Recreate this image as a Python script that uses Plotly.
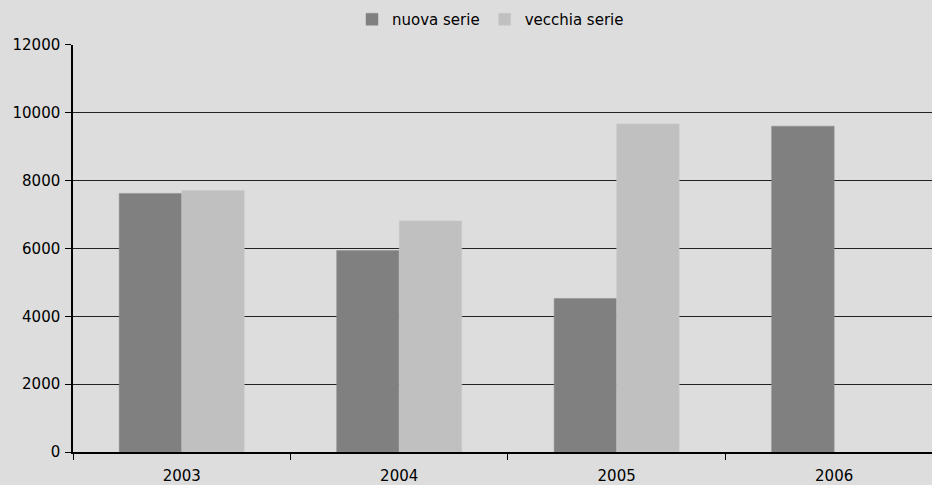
import plotly.graph_objects as go

years = ["2003", "2004", "2005", "2006"]
nuova_serie = [7620, 5935, 4525, 9600]
vecchia_serie = [7705, 6810, 9665, None]
y_ticks = [0, 2000, 4000, 6000, 8000, 10000, 12000]
y_tick_labels = ["0", "2000", "4000", "6000", "8000", "10000", "12000"]

font = dict(family="DejaVu Sans, Verdana, sans-serif", size=15, color="#000000")

fig = go.Figure()
fig.add_trace(go.Bar(name="nuova serie", x=years, y=nuova_serie,
                     marker=dict(color="#808080", line=dict(color="#8a8a8a", width=0.5))))
fig.add_trace(go.Bar(name="vecchia serie", x=years, y=vecchia_serie,
                     marker=dict(color="#c0c0c0", line=dict(color="#c8c8c8", width=0.5))))

fig.update_layout(
    width=932, height=485,
    margin=dict(l=73, r=0, t=42, b=32),
    paper_bgcolor="#dddddd", plot_bgcolor="#dddddd",
    font=font,
    barmode="group", bargap=0.425, bargroupgap=0,
    showlegend=True,
    legend=dict(orientation="h", x=352 / 932, xref="container", xanchor="left",
                y=1 - 3 / 485, yref="container", yanchor="top", font=font, itemwidth=30,
                bgcolor="rgba(0,0,0,0)", traceorder="normal", tracegroupgap=0),
    xaxis=dict(type="category", range=[-0.5, 3.45], showline=True, linecolor="#000000",
               linewidth=1.5, ticks="outside", tickson="boundaries", ticklen=6,
               tickcolor="#000000", showgrid=False, tickfont=font, ticklabelstandoff=9),
    yaxis=dict(range=[0, 12000], tickvals=y_ticks, ticktext=y_tick_labels, showline=True,
               linecolor="#000000", linewidth=1.5, ticks="outside", ticklen=6,
               tickcolor="#000000", showgrid=True, gridcolor="#222222", gridwidth=1,
               zeroline=False, tickfont=font, ticklabelstandoff=2),
)

fig.write_html("out.html", config={"displayModeBar": False},
               post_script="document.body.style.margin='0';document.body.style.background='#dddddd';")
